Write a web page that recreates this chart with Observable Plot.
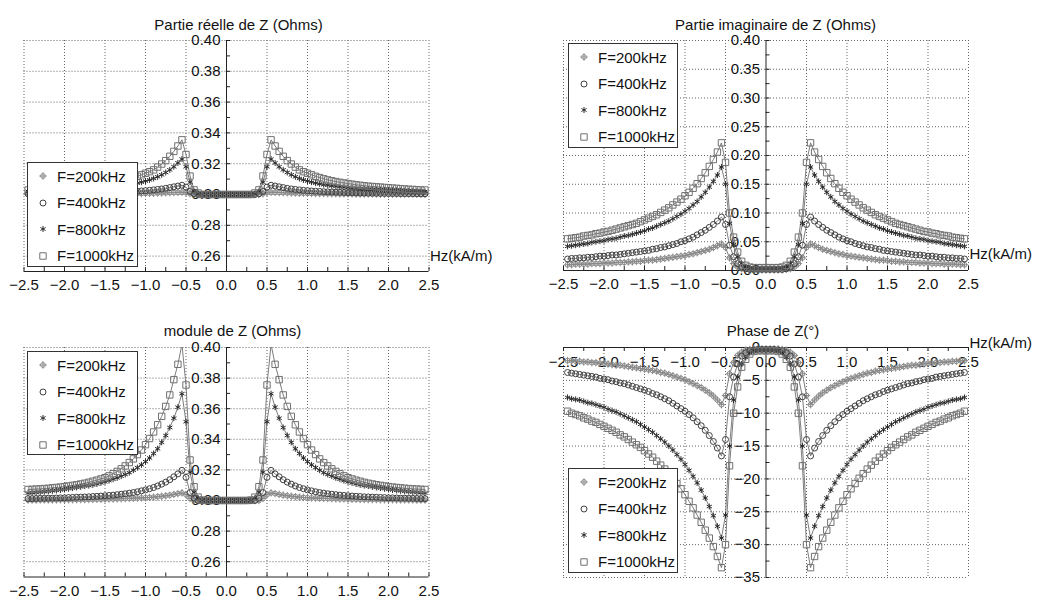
<!DOCTYPE html>
<html><head><meta charset="utf-8">
<script src="https://cdn.jsdelivr.net/npm/d3@7"></script>
<script src="https://cdn.jsdelivr.net/npm/@observablehq/plot@0.6"></script>
<style>
body{margin:0;background:#fff;font-family:"Liberation Sans",Arial,Helvetica,sans-serif;}
#wrap{position:relative;width:1037px;height:603px;overflow:hidden;background:#fff;}
#wrap svg.plotsvg{position:absolute;left:0;top:0;}
.legend{position:absolute;border:1px solid #333;background:#fff;box-sizing:border-box;z-index:5;}
.legend .row{position:absolute;left:0;height:20px;display:flex;align-items:center;font-size:15px;color:#111;white-space:nowrap;}
.legend .row svg{display:block;margin-right:6px;}
</style></head>
<body><div id="wrap"></div>
<script>
// ---- data (curves are symmetric about Hz = 0, values for Hz >= 0) ----
const xHalf = [0,0.05,0.1,0.15,0.2,0.25,0.3,0.35,0.4,0.45,0.5,0.55,0.6,0.65,0.7,0.75,0.8,0.85,0.9,0.95,1,1.05,1.1,1.15,1.2,1.25,1.3,1.35,1.4,1.45,1.5,1.55,1.6,1.65,1.7,1.75,1.8,1.85,1.9,1.95,2,2.05,2.1,2.15,2.2,2.25,2.3,2.35,2.4,2.45];
const freqs = ["F=200kHz","F=400kHz","F=800kHz","F=1000kHz"];

// Partie réelle
const R200 = [0.3,0.3,0.3,0.3,0.3,0.3,0.3,0.3,0.3,0.3005,0.3012,0.3015,0.3014,0.3013,0.3012,0.3011,0.301,0.3009,0.3008,0.3008,0.3007,0.3007,0.3006,0.3006,0.3006,0.3005,0.3005,0.3005,0.3004,0.3004,0.3004,0.3004,0.3003,0.3003,0.3003,0.3003,0.3003,0.3003,0.3002,0.3002,0.3002,0.3002,0.3002,0.3002,0.3002,0.3002,0.3002,0.3002,0.3001,0.3001];
const R400 = [0.3,0.3,0.3,0.3,0.3,0.3,0.3,0.3,0.3005,0.302,0.3048,0.306,0.3055,0.305,0.3045,0.304,0.3036,0.3033,0.303,0.3027,0.3025,0.3023,0.3021,0.302,0.3018,0.3017,0.3016,0.3015,0.3014,0.3013,0.3012,0.3012,0.3011,0.301,0.301,0.3009,0.3009,0.3008,0.3008,0.3008,0.3007,0.3007,0.3007,0.3006,0.3006,0.3006,0.3006,0.3005,0.3005,0.3005];
const R800 = [0.3,0.3,0.3,0.3,0.3,0.3,0.3,0.3005,0.302,0.308,0.318,0.323,0.3205,0.318,0.316,0.3143,0.3128,0.3115,0.3104,0.3095,0.3087,0.308,0.3074,0.3069,0.3064,0.306,0.3056,0.3053,0.305,0.3047,0.3045,0.3042,0.304,0.3038,0.3036,0.3035,0.3033,0.3032,0.303,0.3029,0.3028,0.3027,0.3026,0.3025,0.3024,0.3023,0.3022,0.3021,0.3021,0.302];
const R1000 = [0.3,0.3,0.3,0.3,0.3,0.3,0.3,0.301,0.303,0.312,0.326,0.3355,0.3315,0.328,0.3248,0.322,0.3198,0.3178,0.316,0.3148,0.3138,0.3128,0.3118,0.311,0.3102,0.3095,0.3089,0.3084,0.3079,0.3075,0.3071,0.3067,0.3063,0.306,0.3057,0.3054,0.3052,0.305,0.3048,0.3046,0.3044,0.3042,0.304,0.3038,0.3036,0.3034,0.3033,0.3031,0.303,0.3029];

// Partie imaginaire
const X200 = [0.001,0.001,0.001,0.001,0.001,0.002,0.003,0.006,0.012,0.022,0.040,0.046,0.043,0.040,0.037,0.035,0.033,0.031,0.029,0.028,0.026,0.025,0.024,0.023,0.022,0.021,0.020,0.019,0.018,0.018,0.017,0.016,0.016,0.015,0.015,0.014,0.014,0.014,0.013,0.013,0.013,0.012,0.012,0.012,0.011,0.011,0.011,0.011,0.010,0.010];
const X400 = [0.002,0.002,0.002,0.002,0.002,0.003,0.006,0.012,0.024,0.044,0.080,0.093,0.086,0.080,0.075,0.070,0.066,0.062,0.058,0.055,0.052,0.050,0.047,0.045,0.043,0.041,0.040,0.038,0.037,0.035,0.034,0.033,0.032,0.031,0.030,0.029,0.028,0.027,0.027,0.026,0.025,0.025,0.024,0.023,0.023,0.022,0.022,0.021,0.021,0.020];
const X800 = [0.003,0.003,0.003,0.003,0.004,0.006,0.012,0.024,0.045,0.082,0.150,0.180,0.166,0.155,0.145,0.136,0.128,0.120,0.114,0.108,0.103,0.098,0.094,0.090,0.086,0.083,0.080,0.077,0.074,0.072,0.069,0.067,0.065,0.063,0.061,0.060,0.058,0.056,0.055,0.054,0.052,0.051,0.050,0.049,0.047,0.046,0.045,0.044,0.043,0.042];
const X1000 = [0.005,0.005,0.005,0.005,0.006,0.009,0.016,0.032,0.058,0.100,0.188,0.222,0.206,0.193,0.181,0.170,0.160,0.151,0.143,0.136,0.130,0.124,0.119,0.114,0.109,0.105,0.101,0.097,0.094,0.091,0.088,0.085,0.082,0.080,0.078,0.076,0.074,0.072,0.070,0.068,0.067,0.065,0.064,0.062,0.061,0.060,0.058,0.057,0.056,0.055];

// module de Z
const M200 = [0.3,0.3,0.3,0.3,0.3,0.3,0.3,0.3,0.3,0.3013,0.3038,0.305,0.3045,0.304,0.3035,0.3031,0.3028,0.3025,0.3022,0.302,0.3018,0.3017,0.3016,0.3015,0.3014,0.3013,0.3012,0.3011,0.301,0.301,0.3009,0.3008,0.3008,0.3007,0.3007,0.3006,0.3006,0.3006,0.3005,0.3005,0.3005,0.3005,0.3004,0.3004,0.3004,0.3004,0.3004,0.3003,0.3003,0.3003];
const M400 = [0.3,0.3,0.3,0.3,0.3,0.3,0.3,0.3,0.3015,0.3052,0.3151,0.3197,0.3174,0.3155,0.3136,0.312,0.3107,0.3095,0.3085,0.3077,0.3069,0.3063,0.3057,0.3052,0.3048,0.3044,0.3041,0.3038,0.3035,0.3033,0.3031,0.3029,0.3027,0.3026,0.3024,0.3023,0.3022,0.3021,0.302,0.3019,0.3017,0.3017,0.3016,0.3015,0.3015,0.3014,0.3014,0.3013,0.3012,0.3012];
const M800 = [0.3,0.3,0.3,0.3,0.3,0.3,0.3002,0.3015,0.3054,0.3185,0.3515,0.3698,0.361,0.3538,0.3477,0.3425,0.338,0.3338,0.3307,0.3278,0.3254,0.3233,0.3215,0.3198,0.3182,0.317,0.3159,0.3148,0.3139,0.313,0.3122,0.3115,0.3108,0.3102,0.3097,0.3094,0.3089,0.3085,0.3081,0.3077,0.3072,0.3069,0.3066,0.3063,0.306,0.3058,0.3055,0.3053,0.3051,0.3049];
const M1000 = [0.3,0.3,0.3,0.3,0.3,0.3,0.3003,0.3022,0.309,0.3265,0.3755,0.402,0.389,0.379,0.369,0.3615,0.355,0.3495,0.3448,0.3405,0.3365,0.333,0.33,0.3272,0.3248,0.3226,0.3207,0.319,0.3175,0.3161,0.3149,0.3141,0.3133,0.3126,0.3119,0.3113,0.3108,0.3103,0.3099,0.3095,0.3091,0.3088,0.3085,0.3083,0.308,0.3078,0.3076,0.3075,0.3073,0.3072];

// Phase de Z (degrés)
const P200 = [-0.2,-0.2,-0.2,-0.2,-0.3,-0.4,-0.7,-1.2,-2.3,-4.0,-7.3,-8.7,-8.0,-7.4,-6.9,-6.5,-6.1,-5.8,-5.5,-5.2,-4.9,-4.7,-4.5,-4.3,-4.1,-3.9,-3.8,-3.6,-3.5,-3.4,-3.3,-3.2,-3.1,-3.0,-2.9,-2.8,-2.7,-2.7,-2.6,-2.5,-2.4,-2.4,-2.3,-2.3,-2.2,-2.2,-2.1,-2.1,-2.0,-2.0];
const P400 = [-0.3,-0.3,-0.3,-0.4,-0.5,-0.8,-1.3,-2.5,-4.5,-7.5,-14.0,-16.5,-15.3,-14.3,-13.4,-12.6,-11.9,-11.3,-10.7,-10.2,-9.7,-9.3,-8.9,-8.5,-8.1,-7.8,-7.5,-7.2,-7.0,-6.7,-6.5,-6.3,-6.1,-5.9,-5.7,-5.5,-5.4,-5.2,-5.1,-4.9,-4.8,-4.7,-4.5,-4.4,-4.3,-4.2,-4.1,-4.0,-3.9,-3.8];
const P800 = [-0.4,-0.4,-0.4,-0.5,-0.8,-1.5,-2.5,-4.5,-8.0,-15.0,-25.5,-29.0,-27.2,-25.6,-24.2,-22.9,-21.7,-20.6,-19.6,-18.7,-17.8,-17.0,-16.3,-15.6,-15.0,-14.4,-13.9,-13.4,-12.9,-12.5,-12.1,-11.7,-11.3,-11.0,-10.7,-10.4,-10.1,-9.8,-9.6,-9.4,-9.1,-8.9,-8.7,-8.5,-8.4,-8.2,-8.0,-7.9,-7.8,-7.6];
const P1000 = [-0.5,-0.5,-0.5,-0.6,-1.0,-1.8,-3.0,-6.0,-10.0,-18.0,-30.0,-33.5,-31.8,-30.3,-29.0,-27.8,-26.6,-25.5,-24.4,-23.4,-22.4,-21.5,-20.7,-19.9,-19.2,-18.5,-17.9,-17.3,-16.7,-16.2,-15.7,-15.2,-14.8,-14.4,-14.0,-13.6,-13.3,-12.9,-12.6,-12.3,-12.0,-11.7,-11.4,-11.2,-10.9,-10.7,-10.4,-10.2,-10.0,-9.7];

// ticks
const xTicks = [-2.5,-2,-1.5,-1,-0.5,0,0.5,1,1.5,2,2.5];
const xMinor = [-2.5,-2.25,-2,-1.75,-1.5,-1.25,-1,-0.75,-0.5,-0.25,0,0.25,0.5,0.75,1,1.25,1.5,1.75,2,2.25,2.5];
const yTicksOhm = [0.26,0.28,0.30,0.32,0.34,0.36,0.38,0.40];
const yMinorOhm = [0.26,0.27,0.28,0.29,0.30,0.31,0.32,0.33,0.34,0.35,0.36,0.37,0.38,0.39,0.40];
const yTicksIm = [0,0.05,0.10,0.15,0.20,0.25,0.30,0.35,0.40];
const yMinorIm = [0.025,0.05,0.075,0.10,0.125,0.15,0.175,0.20,0.225,0.25,0.275,0.30,0.325,0.35,0.375,0.40];
const yTicksPh = [0,-5,-10,-15,-20,-25,-30,-35];
const yMinorPh = [-2.5,-5,-7.5,-10,-12.5,-15,-17.5,-20,-22.5,-25,-27.5,-30,-32.5,-35];

// ---- symbols ----
const symPlusCircle = {draw(ctx, size){ const r = Math.sqrt(size/Math.PI); ctx.moveTo(r,0); ctx.arc(0,0,r,0,2*Math.PI); const a=r*1.55; ctx.moveTo(-a,0); ctx.lineTo(a,0); ctx.moveTo(0,-a); ctx.lineTo(0,a);}};
const styles = [
  {sym: symPlusCircle, r: 2.4, stroke: "#8a8a8a"},
  {sym: d3.symbolCircle, r: 3.0, stroke: "#404040"},
  {sym: d3.symbolAsterisk, r: 2.8, stroke: "#2a2a2a"},
  {sym: d3.symbolSquare, r: 3.6, stroke: "#707070"}
];

function rowsOf(vals){ // mirror the read half to the negative side
  const rows = [];
  for (let i = xHalf.length-1; i >= 1; i--) rows.push({x: -xHalf[i], y: vals[i]});
  for (let i = 0; i < xHalf.length; i++) rows.push({x: xHalf[i], y: vals[i]});
  return rows;
}

const W = 1037, H = 603, FS = 15;
const panels = [
  {title:"Partie réelle de Z (Ohms)", series:[R200,R400,R800,R1000], f:{l:23.5,r:428.5,t:40,b:271}, y:[0.25,0.40], axisY:0.25, top:false,
   yTicks:yTicksOhm, yMinor:yMinorOhm, fmt:d3.format(".2f"), tdx:12, tdy:-21, hz:{dy:-11, anchor:"bottom-right"}, leg:[27,162,111,105]},
  {title:"Partie imaginaire de Z (Ohms)", series:[X200,X400,X800,X1000], f:{l:563,r:968,t:40,b:270}, y:[0,0.40], axisY:0, top:false,
   yTicks:yTicksIm, yMinor:yMinorIm, fmt:d3.format(".2f"), tdx:9.5, tdy:-21, hz:{dy:-12, anchor:"bottom-right"}, leg:[568,43,110,105]},
  {title:"module de Z (Ohms)", series:[M200,M400,M800,M1000], f:{l:23.5,r:428.5,t:347,b:576.5}, y:[0.25,0.40], axisY:0.25, top:false,
   yTicks:yTicksOhm, yMinor:yMinorOhm, fmt:d3.format(".2f"), tdx:6, tdy:-22, hz:null, leg:[27,351,111,104]},
  {title:"Phase de Z(°)", series:[P200,P400,P800,P1000], f:{l:563,r:968,t:347,b:577}, y:[-35,0], axisY:0, top:true,
   yTicks:yTicksPh, yMinor:yMinorPh, fmt:d3.format("d"), tdx:7, tdy:-22, hz:{dy:-10, anchor:"top-right"}, leg:[568,468,110,105]}
];

const wrap = document.getElementById("wrap");
const xFmt = d3.format(".1f");

for (const p of panels) {
  const [y0, y1] = p.y;
  const gridY = p.yTicks.filter(v => v !== p.axisY);
  const gridX = xTicks.filter(v => v !== 0);
  const tickLen = 4;
  const marks = [
    Plot.ruleX(gridX, {x: d => d, stroke: "#666", strokeDasharray: "1,2"}),
    Plot.ruleY(gridY, {y: d => d, stroke: "#666", strokeDasharray: "1,2"}),
    Plot.ruleX([0], {x: d => d, stroke: "#222"}),
    Plot.ruleY([p.axisY], {y: d => d, stroke: "#222"}),
    p.top
      ? Plot.ruleX(xMinor, {x: d => d, y1: () => p.axisY, y2: () => p.axisY, insetBottom: -tickLen, stroke: "#222"})
      : Plot.ruleX(xMinor, {x: d => d, y1: () => p.axisY, y2: () => p.axisY, insetTop: -tickLen, stroke: "#222"}),
    Plot.ruleY(p.yMinor, {y: d => d, x1: () => 0, x2: () => 0, insetRight: -tickLen, stroke: "#222"}),
    Plot.text(xTicks, {x: d => d, y: () => p.axisY, dy: p.top ? 14.5 : 14, text: d => xFmt(d), fontSize: FS, fill: "#111"}),
    Plot.text(p.yTicks, {x: () => 0, y: d => d, dx: -6, textAnchor: "end", text: d => p.fmt(d), fontSize: FS, fill: "#111"}),
    Plot.text([p.title], {frameAnchor: "top", dx: p.tdx, dy: p.tdy, text: d => d, fontSize: FS, fill: "#111"})
  ];
  if (p.hz) marks.push(Plot.text(["Hz(kA/m)"], {frameAnchor: p.hz.anchor, dx: 1, dy: p.hz.dy, textAnchor: "start", text: d => d, fontSize: FS, fill: "#111"}));
  p.series.forEach((vals) => {
    marks.push(Plot.line(rowsOf(vals), {x: "x", y: "y", stroke: "#6e6e6e", strokeWidth: 0.9, clip: true}));
  });
  p.series.forEach((vals, i) => {
    const rows = rowsOf(vals).filter(d => d.y >= y0 && d.y <= y1);
    const s = styles[i];
    marks.push(Plot.dot(rows, {x: "x", y: "y", symbol: () => s.sym, r: s.r, stroke: s.stroke, fill: "none", strokeWidth: 1}));
  });
  const svg = Plot.plot({
    width: W, height: H,
    marginLeft: p.f.l, marginRight: W - p.f.r, marginTop: p.f.t, marginBottom: H - p.f.b,
    x: {domain: [-2.5, 2.5], axis: null},
    y: {domain: [y0, y1], axis: null},
    symbol: {type: "identity"},
    style: {background: "none", fontFamily: "'Liberation Sans', Arial, Helvetica, sans-serif", fontSize: FS + "px", overflow: "visible"},
    marks
  });
  svg.classList.add("plotsvg");
  wrap.appendChild(svg);

  const [lx, ly, lw, lh] = p.leg;
  const box = document.createElement("div");
  box.className = "legend";
  Object.assign(box.style, {left: lx + "px", top: ly + "px", width: lw + "px", height: lh + "px"});
  freqs.forEach((f, i) => {
    const s = styles[i];
    const row = document.createElement("div");
    row.className = "row";
    row.style.top = (13 + 26.5 * i - 10) + "px";
    row.style.left = "7px";
    const ic = d3.create("svg").attr("width", 16).attr("height", 16);
    ic.append("path").attr("transform", "translate(8,8)")
      .attr("d", d3.symbol(s.sym, Math.PI * s.r * s.r)())
      .attr("fill", "none").attr("stroke", s.stroke).attr("stroke-width", 1);
    row.appendChild(ic.node());
    const t = document.createElement("span");
    t.textContent = f;
    row.appendChild(t);
    box.appendChild(row);
  });
  wrap.appendChild(box);
}
</script>
</body></html>
